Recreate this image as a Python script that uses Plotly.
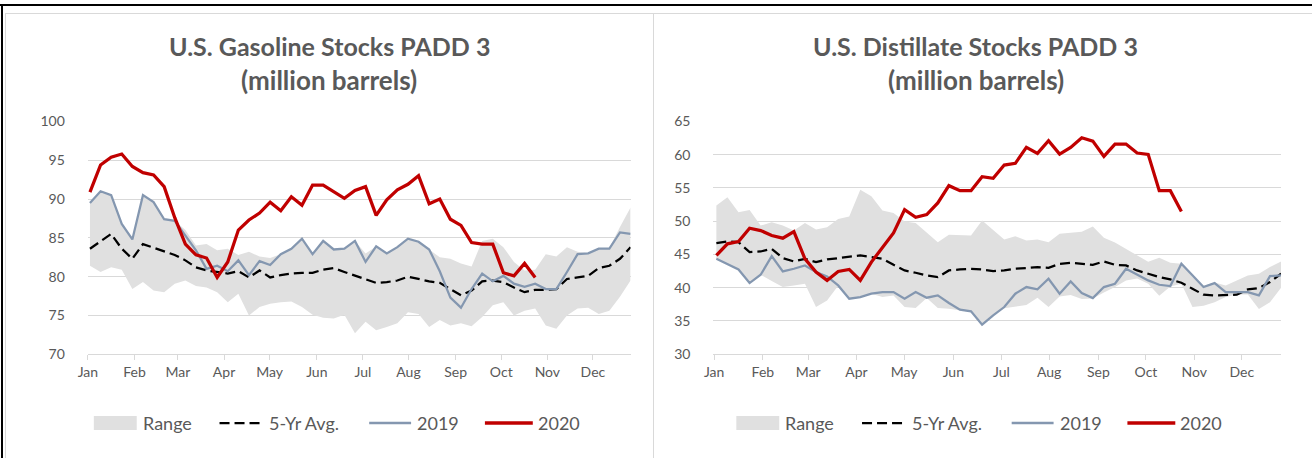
import plotly.graph_objects as go

# Figure size; the page adds a white margin around it, and the photo is slightly squeezed.
W, H = 1296, 442
# measured mapping of figure pixels to photo pixels: photo = O + S * figure
OX, OY, SX, SY = 16.0, 16.0, 0.9946, 0.9637

months = ["Jan", "Feb", "Mar", "Apr", "May", "Jun", "Jul", "Aug", "Sep", "Oct", "Nov", "Dec"]
month_pos = [-0.2, 4.2, 8.3, 12.65, 16.95, 21.4, 25.75, 30.05, 34.5, 38.8, 43.15, 47.45]
weeks = list(range(52))

# Gasoline stocks PADD 3 (million barrels)
gas_max = [89.5, 91.0, 90.5, 86.8, 84.8, 90.5, 89.6, 87.4, 87.2, 86.0,
           84.0, 84.2, 83.4, 83.6, 82.8, 83.2, 82.6, 82.4, 82.9, 83.6,
           84.9, 82.9, 84.6, 83.5, 83.6, 84.6, 83.0, 83.9, 83.0, 83.8,
           84.9, 84.5, 83.5, 82.5, 82.3, 81.7, 81.3, 84.6, 84.9, 83.8,
           81.9, 80.8, 80.9, 82.9, 82.6, 83.8, 83.2, 83.0, 83.7, 83.7,
           86.4, 88.9]
gas_min = [81.4, 80.6, 81.2, 80.9, 78.4, 79.3, 78.2, 78.0, 79.1, 79.5,
           78.8, 78.6, 78.0, 76.7, 77.8, 75.0, 76.1, 76.5, 76.7, 76.8,
           76.1, 75.1, 74.7, 74.6, 75.1, 72.7, 74.2, 73.1, 73.5, 74.0,
           75.4, 75.2, 73.5, 74.4, 73.7, 74.0, 73.6, 74.8, 76.3, 76.7,
           75.0, 75.6, 75.9, 73.7, 73.3, 75.0, 75.9, 76.0, 75.2, 75.6,
           77.4, 79.5]
gas_avg = [83.6, 84.5, 85.5, 83.6, 82.3, 84.2, 83.7, 83.2, 82.8, 82.1,
           81.2, 80.8, 80.6, 80.4, 80.7, 79.9, 80.8, 79.9, 80.2, 80.4,
           80.5, 80.5, 80.9, 81.1, 80.6, 80.1, 79.6, 79.2, 79.3, 79.5,
           80.0, 79.7, 79.4, 79.2, 78.4, 77.6, 78.2, 79.4, 79.5, 79.3,
           78.6, 78.0, 78.3, 78.3, 78.4, 79.7, 79.9, 80.1, 81.1, 81.4,
           82.3, 83.8]
gas_2019 = [89.5, 91.0, 90.5, 86.8, 84.8, 90.5, 89.6, 87.4, 87.2, 85.3,
            83.4, 81.0, 81.4, 80.7, 82.1, 80.2, 82.0, 81.5, 82.9, 83.6,
            84.9, 82.9, 84.6, 83.5, 83.6, 84.6, 81.9, 83.9, 83.0, 83.8,
            84.9, 84.5, 83.5, 80.7, 77.3, 76.0, 78.4, 80.4, 79.4, 80.1,
            79.1, 78.7, 79.1, 78.4, 78.4, 80.6, 82.9, 83.0, 83.6, 83.6,
            85.7, 85.5]
gas_2020 = [90.9, 94.4, 95.4, 95.8, 94.2, 93.4, 93.1, 91.6, 87.6, 84.2,
            82.8, 82.4, 79.9, 81.9, 86.0, 87.3, 88.2, 89.6, 88.5, 90.3,
            89.2, 91.8, 91.8, 91.0, 90.1, 91.1, 91.6, 87.9, 89.9, 91.2,
            91.9, 93.0, 89.4, 90.0, 87.4, 86.6, 84.4, 84.2, 84.2, 80.5,
            80.1, 81.7, 79.9]

# Distillate stocks PADD 3 (million barrels)
dist_max = [52.35, 53.6, 51.35, 51.7, 49.35, 49.85, 49.35, 48.6, 49.75, 48.75,
            49.1, 50.35, 50.7, 54.75, 53.75, 51.6, 51.25, 49.95, 49.75, 48.35,
            46.85, 47.95, 47.95, 47.85, 50.1, 48.6, 47.25, 47.75, 47.1, 47.25,
            46.85, 48.1, 48.25, 48.4, 49.2, 47.5, 46.8, 45.8, 44.9, 43.9,
            44.5, 43.75, 43.6, 41.6, 40.3, 40.8, 40.35, 41.1, 41.85, 42.1,
            43.1, 43.95]
dist_min = [44.35, 43.6, 42.75, 40.7, 41.95, 41.0, 40.1, 40.35, 40.6, 37.1,
            38.1, 40.3, 38.35, 38.6, 39.1, 38.6, 38.85, 37.1, 36.95, 38.45,
            36.95, 36.85, 36.6, 36.35, 34.45, 35.85, 36.9, 37.1, 37.4, 38.5,
            37.1, 38.7, 38.9, 38.3, 38.4, 39.3, 40.1, 41.1, 41.4, 40.6,
            38.8, 40.2, 40.6, 37.1, 37.3, 37.8, 38.6, 39.0, 39.0, 36.8,
            37.8, 40.0]
dist_avg = [46.7, 46.95, 46.85, 45.35, 45.45, 45.85, 44.45, 43.95, 44.35, 43.85,
            44.25, 44.45, 44.75, 44.85, 44.6, 44.35, 43.45, 42.6, 42.25, 41.85,
            41.6, 42.6, 42.75, 42.85, 42.75, 42.5, 42.6, 42.85, 42.95, 43.1,
            43.0, 43.6, 43.75, 43.65, 43.45, 43.95, 43.45, 43.35, 42.6, 42.1,
            41.6, 41.25, 40.75, 39.85, 38.95, 38.85, 38.85, 38.95, 39.75, 39.95,
            40.85, 42.1]
dist_2019 = [44.35, 43.6, 42.75, 40.7, 41.95, 44.75, 42.45, 42.85, 43.35, 42.35,
             41.7, 40.35, 38.35, 38.6, 39.1, 39.35, 39.35, 38.35, 39.35, 38.5,
             38.85, 37.7, 36.7, 36.45, 34.45, 35.85, 37.1, 39.1, 40.1, 39.75,
             41.35, 39.1, 40.95, 39.2, 38.45, 40.1, 40.6, 42.85, 41.95, 41.1,
             40.45, 40.25, 43.6, 41.85, 40.1, 40.7, 39.35, 39.35, 39.35, 38.85,
             41.75, 41.85]
dist_2020 = [44.85, 46.6, 46.95, 48.95, 48.6, 47.85, 47.45, 48.45, 44.35, 42.35,
             41.1, 42.45, 42.75, 41.1, 43.85, 46.1, 48.25, 51.75, 50.6, 51.0,
             52.75, 55.35, 54.6, 54.6, 56.7, 56.45, 58.45, 58.7, 61.1, 60.2,
             62.1, 60.1, 61.1, 62.55, 62.05, 59.75, 61.6, 61.6, 60.25, 60.05,
             54.6, 54.6, 51.45]

titles = ["U.S. Gasoline Stocks PADD 3", "U.S. Distillate Stocks PADD 3"]
subtitle = "(million barrels)"
legend_names = ["Range", "5-Yr Avg.", "2019", "2020"]

BAND = "#e0e0e0"
BLUE = "#8497b0"
RED = "#c00000"
TXT = "#595959"
GRID = "#d9d9d9"
FONT = "Lato"


def px(X):
    """photo pixel x -> paper coordinate"""
    return (X - OX) / SX / W


def py(Y):
    """photo pixel y (from top) -> paper coordinate"""
    return 1 - (Y - OY) / SY / H


fig = go.Figure()

panels = [
    dict(xa="x", ya="y", mx=gas_max, mn=gas_min, avg=gas_avg, y19=gas_2019, y20=gas_2020),
    dict(xa="x2", ya="y2", mx=dist_max, mn=dist_min, avg=dist_avg, y19=dist_2019, y20=dist_2020),
]
for p in panels:
    fig.add_trace(go.Scatter(x=weeks, y=p["mn"], mode="lines", line=dict(width=0, color=BAND),
                             xaxis=p["xa"], yaxis=p["ya"], showlegend=False, hoverinfo="skip"))
    fig.add_trace(go.Scatter(x=weeks, y=p["mx"], mode="lines", line=dict(width=0, color=BAND),
                             fill="tonexty", fillcolor=BAND, name=legend_names[0],
                             xaxis=p["xa"], yaxis=p["ya"], showlegend=False))
    fig.add_trace(go.Scatter(x=weeks, y=p["avg"], mode="lines", name=legend_names[1],
                             line=dict(color="black", width=2.25, dash="10px,5px"),
                             xaxis=p["xa"], yaxis=p["ya"], showlegend=False))
    fig.add_trace(go.Scatter(x=weeks, y=p["y19"], mode="lines", name=legend_names[2],
                             line=dict(color=BLUE, width=2.25),
                             xaxis=p["xa"], yaxis=p["ya"], showlegend=False))
    fig.add_trace(go.Scatter(x=weeks[:len(p["y20"])], y=p["y20"], mode="lines", name=legend_names[3],
                             line=dict(color=RED, width=3.25),
                             xaxis=p["xa"], yaxis=p["ya"], showlegend=False))

xcommon = dict(tickmode="array", tickvals=month_pos, ticktext=months, showgrid=False,
               showline=True, linecolor=GRID, linewidth=1, ticks="outside", ticklen=5,
               tickcolor=GRID, zeroline=False, tickfont=dict(family=FONT, size=14, color=TXT),
               fixedrange=True)
ycommon = dict(showgrid=True, gridcolor=GRID, gridwidth=1, zeroline=False, showline=False,
               ticks="", ticklabelstandoff=22, tickfont=dict(family=FONT, size=14, color=TXT),
               fixedrange=True)

ydom = [py(354), py(120.7)]
fig.update_layout(
    width=W, height=H, margin=dict(l=0, r=0, t=0, b=0), autosize=False,
    paper_bgcolor="rgba(0,0,0,0)", plot_bgcolor="rgba(0,0,0,0)", showlegend=False,
    xaxis=dict(domain=[px(86), px(630)], range=[-0.2, 51], **xcommon),
    yaxis=dict(domain=ydom, range=[70, 100], dtick=5, tick0=70, **ycommon),
    xaxis2=dict(domain=[px(713), px(1282)], range=[-0.27, 51], anchor="y2", **xcommon),
    yaxis2=dict(domain=ydom, range=[30, 65], dtick=5, tick0=30, anchor="x2", **ycommon),
)

shapes = []
annotations = []
title_cx = [328, 976]
leg_off = [0, 644]
for k in range(2):
    annotations.append(dict(text=titles[k], xref="paper", yref="paper", x=px(title_cx[k]), y=py(45),
                            showarrow=False, xanchor="center", yanchor="middle",
                            font=dict(family=FONT, size=25, color=TXT, weight="bold")))
    annotations.append(dict(text=subtitle, xref="paper", yref="paper", x=px(title_cx[k]), y=py(79),
                            showarrow=False, xanchor="center", yanchor="middle",
                            font=dict(family=FONT, size=26, color=TXT, weight="bold")))
    o = leg_off[k]
    ly = py(423)
    shapes.append(dict(type="rect", xref="paper", yref="paper", x0=px(92 + o), x1=px(135 + o),
                       y0=py(430), y1=py(416), line=dict(width=0), fillcolor=BAND))
    shapes.append(dict(type="line", xref="paper", yref="paper", x0=px(218 + o), x1=px(262 + o),
                       y0=ly, y1=ly, line=dict(color="black", width=2.25, dash="10px,5px")))
    shapes.append(dict(type="line", xref="paper", yref="paper", x0=px(368 + o), x1=px(410 + o),
                       y0=ly, y1=ly, line=dict(color=BLUE, width=2.5)))
    shapes.append(dict(type="line", xref="paper", yref="paper", x0=px(484 + o), x1=px(532 + o),
                       y0=ly, y1=ly, line=dict(color=RED, width=3.5)))
    for name, lx in zip(legend_names, [141, 268, 416, 537]):
        annotations.append(dict(text=name, xref="paper", yref="paper", x=px(lx + o), y=ly,
                                showarrow=False, xanchor="left", yanchor="middle", xshift=-2,
                                font=dict(family=FONT, size=18, color=TXT)))

fig.update_layout(shapes=shapes, annotations=annotations)

# Frame lines that sit in the page margin (outside the figure) are painted as page background.
# (page px = photo px / scale)
def rect_css(X, Y, w, h, color):
    return "linear-gradient({c},{c}) {x:.2f}px {y:.2f}px / {w:.2f}px {h:.2f}px no-repeat".format(
        c=color, x=X / SX, y=Y / SY, w=w / SX, h=h / SY)


layers = [
    rect_css(0, 4, 1340, 2.2, "#000"),
    rect_css(1, 4, 2.2, 480, "#000"),
    rect_css(5, 12.3, 1300, 1.1, GRID),
    rect_css(5, 12.3, 1.1, 440, GRID),
    rect_css(649.5, 12.3, 1.1, 440, GRID),
    rect_css(1304.5, 12.3, 1.1, 440, GRID),
    rect_css(5, 451.5, 1300.6, 1.1, GRID),
]
frame_js = "document.body.style.background='" + ", ".join(layers) + ", #ffffff';"

fig.write_html("out.html", config={"displayModeBar": False, "staticPlot": True}, post_script=frame_js)
